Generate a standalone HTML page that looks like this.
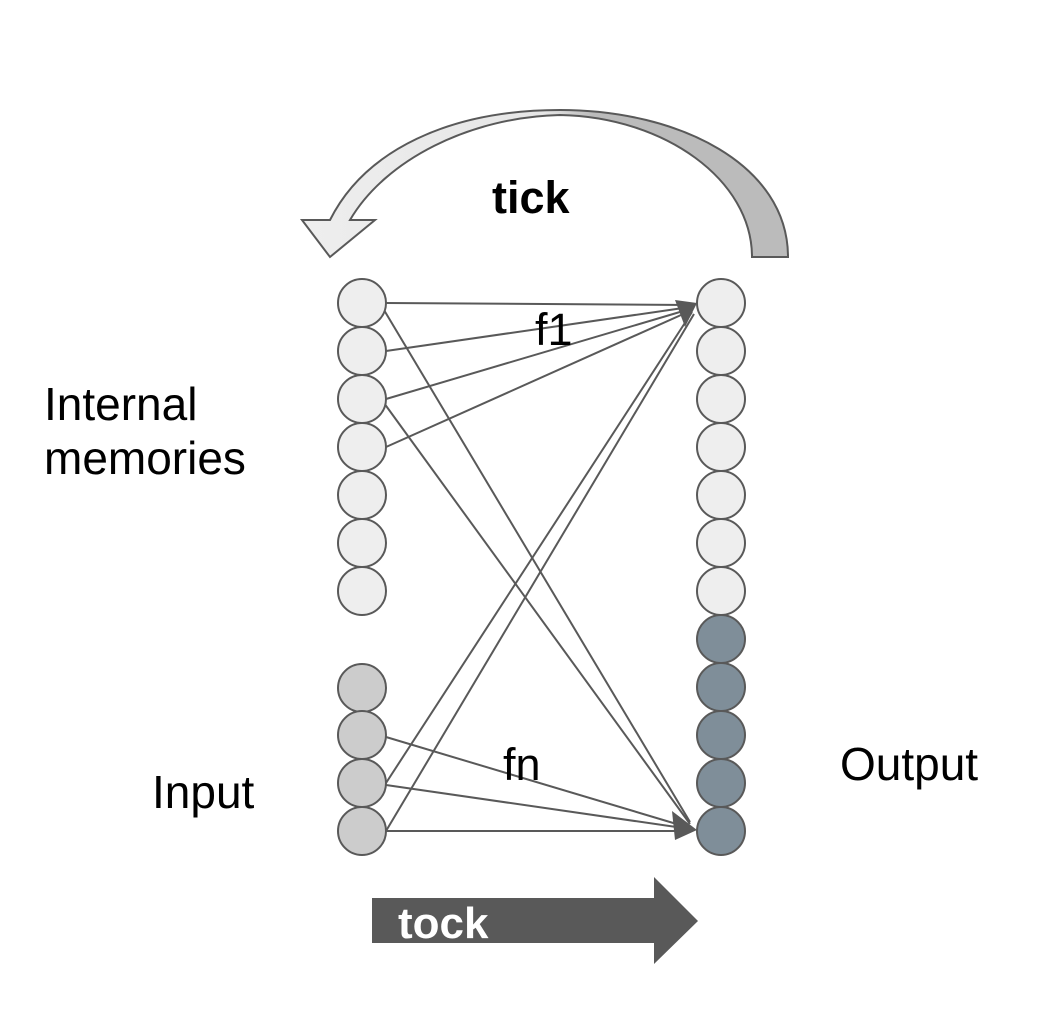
<!DOCTYPE html>
<html><head><meta charset="utf-8"><style>
html,body{margin:0;padding:0;background:#fff;}
svg{display:block;}
text{font-family:"Liberation Sans",Arial,sans-serif;}
</style></head><body>
<svg width="1054" height="1016" viewBox="0 0 1054 1016" xmlns="http://www.w3.org/2000/svg">
<defs>
<linearGradient id="g" x1="0" y1="0" x2="1" y2="0" gradientUnits="userSpaceOnUse" gradientTransform="translate(302,0) scale(486,1)">
<stop offset="0" stop-color="#eeeeee"/><stop offset="0.5" stop-color="#e6e6e6"/><stop offset="0.6" stop-color="#bbbbbb"/><stop offset="1" stop-color="#bbbbbb"/>
</linearGradient>
</defs>
<!-- tick arrow -->
<path d="M788,257 C788,165 680,110 560,110 C450,110 365,150 330,220 L302,220 L330,257 L375,220 L350,220 C385,160 470,117 560,115 C665,117 752,180 752,257 Z" fill="url(#g)" stroke="#595959" stroke-width="2"/>
<text x="492" y="213" font-size="45" font-weight="bold" fill="#000">tick</text>
<!-- connectors -->
<g stroke="#595959" stroke-width="2" fill="none">
<line x1="386" y1="303" x2="690" y2="305"/>
<line x1="386" y1="351" x2="690" y2="307"/>
<line x1="386" y1="399" x2="690" y2="309"/>
<line x1="386" y1="447" x2="690" y2="311"/>
<line x1="386" y1="783" x2="692" y2="312"/>
<line x1="386" y1="831" x2="694" y2="314"/>
<line x1="384" y1="310" x2="690" y2="822"/>
<line x1="384" y1="403" x2="690" y2="824"/>
<line x1="386" y1="737" x2="690" y2="828"/>
<line x1="386" y1="785" x2="690" y2="829"/>
<line x1="386" y1="831" x2="690" y2="831"/>
</g>
<path d="M697,303 L675,300 L685,327 Z" fill="#595959"/>
<path d="M697,830 L672,811 L675,840 Z" fill="#595959"/>
<g stroke="#595959" stroke-width="2">
<circle cx="362" cy="303" r="24" fill="#eeeeee"/>
<circle cx="362" cy="351" r="24" fill="#eeeeee"/>
<circle cx="362" cy="399" r="24" fill="#eeeeee"/>
<circle cx="362" cy="447" r="24" fill="#eeeeee"/>
<circle cx="362" cy="495" r="24" fill="#eeeeee"/>
<circle cx="362" cy="543" r="24" fill="#eeeeee"/>
<circle cx="362" cy="591" r="24" fill="#eeeeee"/>
<circle cx="362" cy="688" r="24" fill="#cccccc"/>
<circle cx="362" cy="735" r="24" fill="#cccccc"/>
<circle cx="362" cy="783" r="24" fill="#cccccc"/>
<circle cx="362" cy="831" r="24" fill="#cccccc"/>
<circle cx="721" cy="303" r="24" fill="#eeeeee"/>
<circle cx="721" cy="351" r="24" fill="#eeeeee"/>
<circle cx="721" cy="399" r="24" fill="#eeeeee"/>
<circle cx="721" cy="447" r="24" fill="#eeeeee"/>
<circle cx="721" cy="495" r="24" fill="#eeeeee"/>
<circle cx="721" cy="543" r="24" fill="#eeeeee"/>
<circle cx="721" cy="591" r="24" fill="#eeeeee"/>
<circle cx="721" cy="639" r="24" fill="#7f8e99"/>
<circle cx="721" cy="687" r="24" fill="#7f8e99"/>
<circle cx="721" cy="735" r="24" fill="#7f8e99"/>
<circle cx="721" cy="783" r="24" fill="#7f8e99"/>
<circle cx="721" cy="831" r="24" fill="#7f8e99"/>
</g>
<text x="535" y="345" font-size="45" fill="#000">f1</text>
<text x="503" y="780" font-size="45" fill="#000">fn</text>
<text x="44" y="420" font-size="46" fill="#000">Internal</text>
<text x="44" y="474" font-size="46" fill="#000">memories</text>
<text x="152" y="808" font-size="46" fill="#000">Input</text>
<text x="840" y="780" font-size="46" fill="#000">Output</text>
<path d="M372,898 L654,898 L654,877 L698,921 L654,964 L654,943 L372,943 Z" fill="#595959"/>
<text x="398" y="938" font-size="44" font-weight="bold" fill="#ffffff">tock</text>
</svg>
</body></html>
